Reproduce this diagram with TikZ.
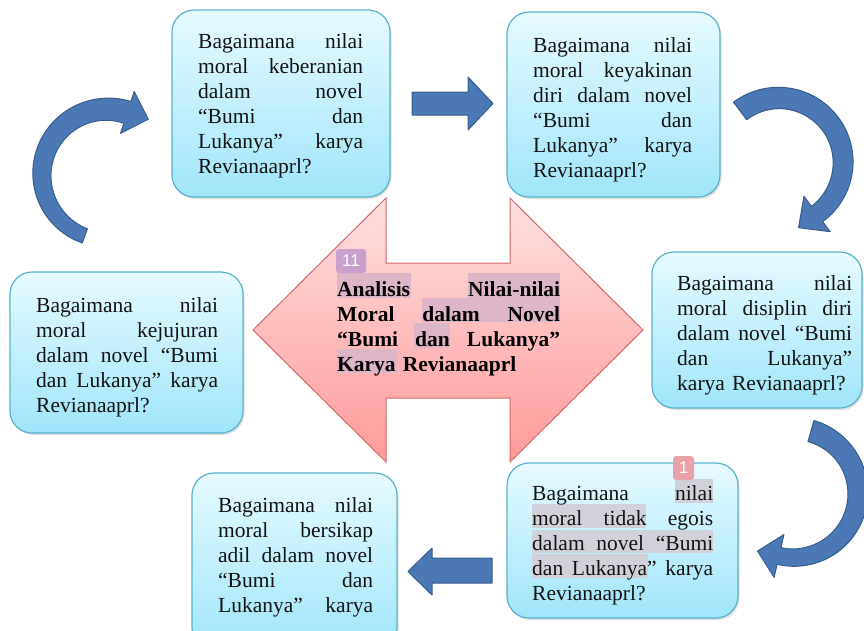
\documentclass[tikz,border=0pt]{standalone}
\usepackage{fontspec}
\setmainfont{Liberation Serif}
\newfontfamily\badgefont{Liberation Sans}
\usetikzlibrary{shadows}
\definecolor{boxtop}{HTML}{E6FBFF}
\definecolor{boxbot}{HTML}{9FE5FA}
\definecolor{boxline}{HTML}{5AB2CC}
\definecolor{arrtop}{HTML}{FFE0E0}
\definecolor{arrbot}{HTML}{FF9A9A}
\definecolor{arrline}{HTML}{D26868}
\definecolor{bluefill}{HTML}{4A79B5}
\definecolor{blueline}{HTML}{385D8C}
\definecolor{hlpurple}{HTML}{DDB6C7}
\definecolor{hlgray}{HTML}{D1D1DA}
\definecolor{badgepurple}{HTML}{C8A2CA}
\definecolor{badgered}{HTML}{E9A2A9}
\definecolor{txt}{HTML}{141414}
\hbadness=10000
\def\lw{100pt}
\newcommand\jline[1]{\noindent\hbox to \lw{#1}\par}
\newcommand\lline[1]{\noindent\hbox{#1}\par}
% cx cy r a0 a1 w0 w1 headhalf headlen
\newcommand\bluecurve[9]{%
 \filldraw[bluearrow]
  plot[domain=#4:#5,samples=60] ({#1+(#3+(#6+(#7-#6)*(\x-(#4))/(#5-(#4)))/2)*cos(\x)},{#2+(#3+(#6+(#7-#6)*(\x-(#4))/(#5-(#4)))/2)*sin(\x)})
  -- ({#1+(#3+#8)*cos(#5)},{#2+(#3+#8)*sin(#5)})
  -- ({#1+#3*cos(#5)-#9*sin(#5)},{#2+#3*sin(#5)+#9*cos(#5)})
  -- ({#1+(#3-#8)*cos(#5)},{#2+(#3-#8)*sin(#5)})
  -- plot[domain=#5:#4,samples=60] ({#1+(#3-(#6+(#7-#6)*(\x-(#4))/(#5-(#4)))/2)*cos(\x)},{#2+(#3-(#6+(#7-#6)*(\x-(#4))/(#5-(#4)))/2)*sin(\x)})
  -- cycle;}
\tikzset{
  qbox/.style={draw=boxline, line width=1.2pt, rounded corners=22pt,
    top color=boxtop, bottom color=boxbot, inner sep=0pt,
    drop shadow={opacity=0.25, shadow xshift=1.5pt, shadow yshift=-2pt}},
  qtext/.style={anchor=north west, inner sep=0pt, text=txt,
    font=\fontsize{21.5}{25}\selectfont},
  ctext/.style={qtext, font=\fontsize{21.5}{25}\selectfont\bfseries, text=black},
  bluearrow/.style={fill=bluefill, draw=blueline, line width=1pt, line join=round},
  pinkarrow/.style={draw=arrline, line width=1pt, top color=arrtop, bottom color=arrbot},
  badge/.style={rounded corners=3pt, inner sep=0pt, text=white,
    font=\badgefont\fontsize{17}{17}\selectfont},
}
\begin{document}
\begin{tikzpicture}[x=1pt,y=-1pt]
\useasboundingbox (0,0) rectangle (864,630);
\clip (0,0) rectangle (864,630);

% question boxes
\node[qbox, minimum width=218pt, minimum height=187pt] (tlbox) at (281,103.5) {};
\node[qbox, minimum width=213pt, minimum height=185pt] (trbox) at (613.5,104.5) {};
\node[qbox, minimum width=210pt, minimum height=156pt] (rmbox) at (757,330) {};
\node[qbox, minimum width=233pt, minimum height=161pt] (lmbox) at (126.5,352.5) {};
\node[qbox, minimum width=231pt, minimum height=155pt] (brbox) at (622.5,540.5) {};
\node[qbox, minimum width=205pt, minimum height=177pt] (blbox) at (294.5,561.5) {};

% central double arrow
\draw[pinkarrow] (253,330) -- (386,198) -- (386,263) -- (510,263) -- (510,198)
  -- (643,330) -- (510,462) -- (510,398) -- (386,398) -- (386,462) -- cycle;

% straight block arrows
\filldraw[bluearrow] (412,92) -- (468,92) -- (468,77) -- (493,103.5) -- (468,130)
  -- (468,115) -- (412,115) -- cycle;
\filldraw[bluearrow] (492,558) -- (432,558) -- (432,548) -- (408,571.5) -- (432,595)
  -- (432,583) -- (492,583) -- cycle;

% curved block arrows
\bluecurve{107.2}{174.5}{65.3}{110}{288}{15}{23}{22}{22}
\bluecurve{778.8}{162.3}{64.3}{-127}{53.5}{22}{19}{22}{23}
\bluecurve{793.4}{493.1}{64.5}{-74.2}{102.9}{22}{17}{22}{22}

% highlights (centre)
\fill[hlpurple] (337,273) rectangle (411,298);
\fill[hlpurple] (468,273) rectangle (560,298);
\fill[hlpurple] (422,298) rectangle (560,322);
\fill[hlpurple] (414,323) rectangle (450,348);
\fill[hlpurple] (337,349) rectangle (397,373);
% highlights (bottom right)
\fill[hlgray] (675,479) rectangle (713,503);
\fill[hlgray] (532,504) rectangle (646,528);
\fill[hlgray] (532,530) rectangle (713,553);
\fill[hlgray] (532,554) rectangle (648,578);

% badges
\node[badge, fill=badgepurple, minimum width=30pt, minimum height=24pt] (b11) at (351,261) {11};
\node[badge, fill=badgered, minimum width=21pt, minimum height=24pt] (b1) at (683.5,468) {1};

% texts
\node[qtext, text width=165pt] (tltext) at (198,33.5) {\def\lw{165pt}%
\jline{Bagaimana\hfill nilai}
\jline{moral\hfill keberanian}
\jline{dalam\hfill novel}
\jline{“Bumi\hfill dan}
\jline{Lukanya”\hfill karya}
\lline{Revianaaprl?}};

\node[qtext, text width=159pt] (trtext) at (533,37.5) {\def\lw{159pt}%
\jline{Bagaimana\hfill nilai}
\jline{moral\hfill keyakinan}
\jline{diri\hfill dalam\hfill novel}
\jline{“Bumi\hfill dan}
\jline{Lukanya”\hfill karya}
\lline{Revianaaprl?}};

\node[qtext, text width=175pt] (rmtext) at (677,275.5) {\def\lw{175pt}%
\jline{Bagaimana\hfill nilai}
\jline{moral\hfill disiplin\hfill diri}
\jline{dalam\hfill novel\hfill “Bumi}
\jline{dan\hfill Lukanya”}
\lline{karya Revianaaprl?}};

\node[qtext, text width=182pt] (lmtext) at (36,297) {\def\lw{182pt}%
\jline{Bagaimana\hfill nilai}
\jline{moral\hfill kejujuran}
\jline{dalam\hfill novel\hfill “Bumi}
\jline{dan\hfill Lukanya”\hfill karya}
\lline{Revianaaprl?}};

\node[qtext, text width=181pt] (brtext) at (532,485) {\def\lw{181pt}%
\jline{Bagaimana\hfill nilai}
\jline{moral\hfill tidak\hfill egois}
\jline{dalam\hfill novel\hfill “Bumi}
\jline{dan\hfill Lukanya”\hfill karya}
\lline{Revianaaprl?}};

\node[qtext, text width=155pt] (bltext) at (218,497) {\def\lw{155pt}%
\jline{Bagaimana\hfill nilai}
\jline{moral\hfill bersikap}
\jline{adil\hfill dalam\hfill novel}
\jline{“Bumi\hfill dan}
\jline{Lukanya”\hfill karya}};

\node[ctext, text width=223pt] (ctext) at (337,281) {\def\lw{223pt}%
\jline{Analisis\hfill Nilai-nilai}
\jline{Moral\hfill dalam\hfill Novel}
\jline{“Bumi\hfill dan\hfill Lukanya”}
\lline{Karya Revianaaprl}};
\end{tikzpicture}
\end{document}
